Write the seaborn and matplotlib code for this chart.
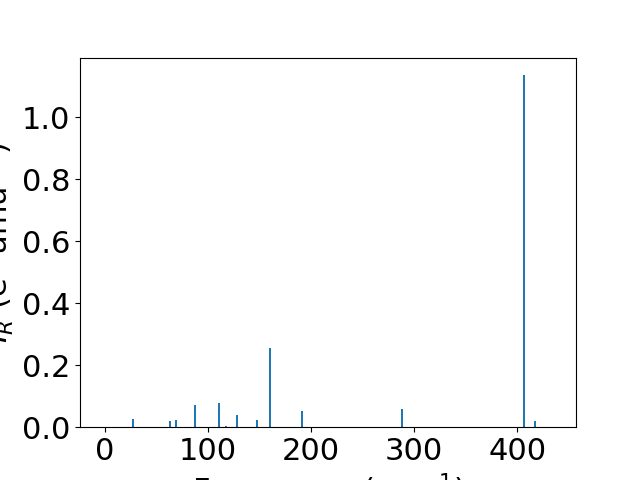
import numpy as np
from matplotlib import pyplot as plt
import seaborn as sns

# frequencies (cm^-1) and IR intensities
freq = [27.7, 63.6, 69.4, 87.9, 111.2, 118.0, 128.6, 148.0, 160.7, 191.7, 287.9, 406.3, 417.3]
intensity = [0.026, 0.019, 0.023, 0.071, 0.077, 0.003, 0.039, 0.023, 0.255, 0.052, 0.058, 1.135, 0.019]

bar_width = 2.0  # in cm^-1

plt.rcParams['font.size'] = 22

fig, ax = plt.subplots(figsize=(6.4, 4.8), dpi=100)

# seaborn scales width by the smallest spacing between x values when native_scale=True
spacing = np.min(np.diff(np.sort(freq)))
sns.barplot(x=freq, y=intensity, native_scale=True, width=bar_width / spacing,
            errorbar=None, color='#1f77b4', saturation=1, linewidth=0, ax=ax)

ax.set_xlim(-24, 457)
ax.set_xlabel("Frequency (cm$^{-1}$)")
ax.set_ylabel("$I_R$ (e$^2$ amu$^{-1}$)")

plt.savefig("out.png")
